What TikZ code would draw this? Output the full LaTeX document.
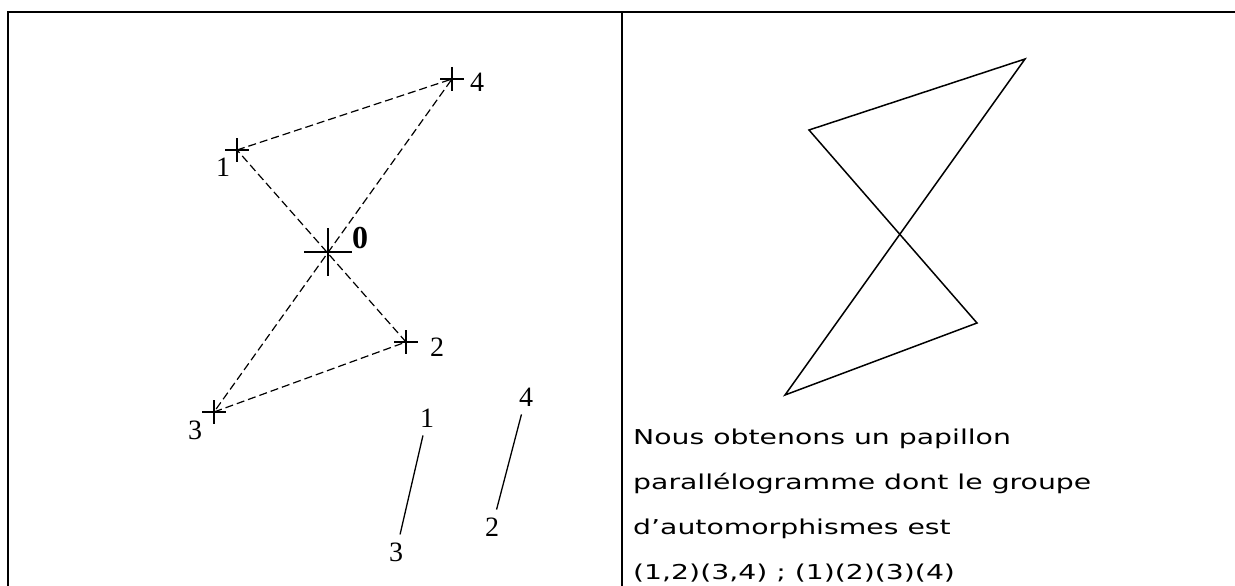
\documentclass[tikz,border=0pt]{standalone}
\usepackage{fontspec}
\setmainfont{Liberation Serif}
\newfontfamily\notefont[FakeStretch=1.38]{DejaVu Sans}
\usetikzlibrary{positioning,calc}
\newcommand{\crossmark}[2]{\draw[mark line] ($(#1)+(-#2,0)$) -- ($(#1)+(#2,0)$) ($(#1)+(0,-#2)$) -- ($(#1)+(0,#2)$);}

\begin{document}
\begin{tikzpicture}[x=1pt,y=-1pt,
  frame/.style={line width=2.2pt},
  mark line/.style={line width=1.3pt},
  link/.style={dash pattern=on 8pt off 4pt,line width=1.2pt},
  wing/.style={line width=1.5pt,line join=miter},
  vlabel/.style={font=\fontsize{28}{30}\selectfont,inner sep=0pt},
  pair/.style={font=\fontsize{28}{30}\selectfont,inner sep=8pt},
  note/.style={font=\notefont\fontsize{20.5}{24}\selectfont,anchor=base west,inner sep=0pt}
]
\useasboundingbox (0,0) rectangle (1235,586);
% table frame
\draw[frame] (8,600) -- (8,12) -- (1240,12);
\draw[frame] (622,12) -- (622,600);

% left cell: the four points round 0
\coordinate (p0) at (328,252);
\coordinate (p1) at (237,150);
\coordinate (p2) at (406,342);
\coordinate (p3) at (214,412);
\coordinate (p4) at (452,79);
\draw[link] (p1) -- (p4) -- (p3) -- (p2) -- cycle;
\foreach \p in {p1,p2,p3,p4} {\crossmark{\p}{12}}
\crossmark{p0}{24}
\node[vlabel] (l4) at (477,82) {4};
\node[vlabel] (l1) at (223,167) {1};
\node[vlabel,font=\bfseries\fontsize{32}{34}\selectfont] (l0) at (360,238) {0};
\node[vlabel] (l2) at (437,347) {2};
\node[vlabel] (l3) at (195,430) {3};

% the two pairs
\node[pair] (a1) at (427,418) {1};
\node[pair] (a3) at (396,552) {3};
\node[pair] (b4) at (526,397) {4};
\node[pair] (b2) at (492,527) {2};
\draw[mark line] (a1) -- (a3);
\draw[mark line] (b4) -- (b2);

% right cell: the butterfly
\coordinate (q1) at (809,130);
\coordinate (q4) at (1025,59);
\coordinate (q3) at (785,395);
\coordinate (q2) at (977,323);
\draw[wing] (q1) -- (q4) -- (q3) -- (q2) -- cycle;

\node[note] (t1) at (633,444) {Nous obtenons un papillon};
\node[note] (t2) at (633,489) {parallélogramme dont le groupe};
\node[note] (t3) at (633,534) {d’automorphismes est};
\node[note] (t4) at (633,579) {(1,2)(3,4) ; (1)(2)(3)(4)};
\end{tikzpicture}
\end{document}
